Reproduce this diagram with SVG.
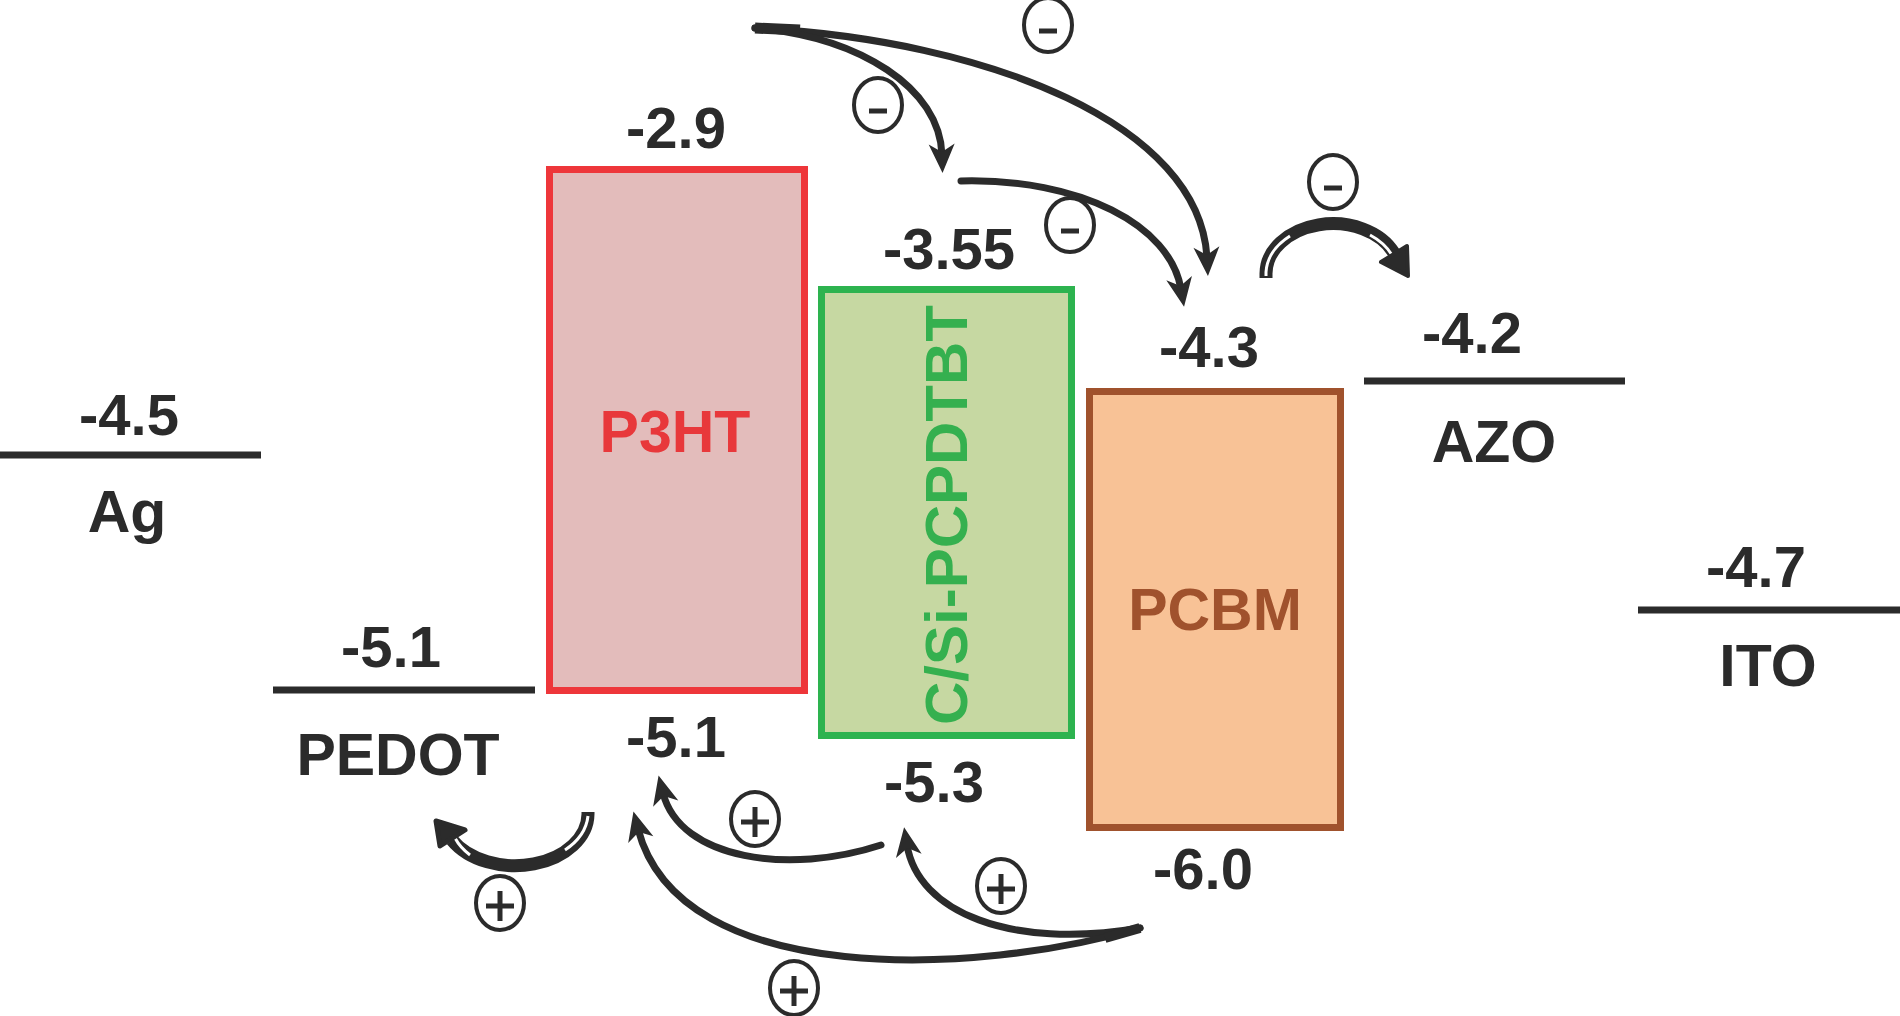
<svg xmlns="http://www.w3.org/2000/svg" width="1900" height="1016" viewBox="0 0 1900 1016">
<defs>
<style>
.t{font-family:"Liberation Sans",Arial,sans-serif;font-weight:bold;fill:#2b2b2b;text-anchor:middle}
.num{font-size:58px}
.lab{font-size:59px}
.lvl{stroke:#2b2b2b;stroke-width:7;fill:none}
.arr{stroke:#2b2b2b;stroke-width:7;fill:none;stroke-linecap:round;marker-end:url(#ah)}
.ring{fill:none;stroke:#2b2b2b;stroke-width:4}
.sgn{stroke:#2b2b2b;stroke-width:5;fill:none}
.hol{stroke:#2b2b2b;stroke-width:13;fill:none}
.holin{stroke:#ffffff;stroke-width:3;fill:none}
</style>
<marker id="ah" viewBox="-14 -14 34 28" markerUnits="userSpaceOnUse" markerWidth="34" markerHeight="28" refX="0" refY="0" orient="auto">
<path d="M18,0 L-11,-13 L-3,0 L-11,13 Z" fill="#2b2b2b"/>
</marker>
</defs>

<g id="ag">
<line class="lvl" x1="0" y1="455" x2="261" y2="455"/>
<text class="t num" x="129" y="435">-4.5</text>
<text class="t lab" x="127" y="532">Ag</text>
</g>

<g id="pedot">
<line class="lvl" x1="273" y1="690" x2="535" y2="690"/>
<text class="t num" x="391" y="667">-5.1</text>
<text class="t lab" x="398" y="775">PEDOT</text>
</g>

<g id="p3ht">
<rect x="549.5" y="169.5" width="255" height="521" fill="#E3BCBB" stroke="#EE363A" stroke-width="7"/>
<text class="t lab" x="675" y="452" style="fill:#E8383B">P3HT</text>
<text class="t num" x="676" y="148">-2.9</text>
<text class="t num" x="676" y="757">-5.1</text>
</g>

<g id="pcpdtbt">
<rect x="821.5" y="289.5" width="250" height="446" fill="#C6D8A2" stroke="#2DB34F" stroke-width="7"/>
<text class="t" transform="translate(946,515) rotate(-90)" x="0" y="21" style="font-size:60px;fill:#35B04F">C/Si-PCPDTBT</text>
<text class="t num" x="949" y="269">-3.55</text>
<text class="t num" x="934" y="802">-5.3</text>
</g>

<g id="pcbm">
<rect x="1089.5" y="391.5" width="251" height="436" fill="#F8C296" stroke="#A0522D" stroke-width="7"/>
<text class="t lab" x="1215" y="630" style="fill:#A0522D">PCBM</text>
<text class="t num" x="1209" y="367">-4.3</text>
<text class="t num" x="1203" y="889">-6.0</text>
</g>

<g id="azo">
<line class="lvl" x1="1364" y1="381" x2="1625" y2="381"/>
<text class="t num" x="1472" y="353">-4.2</text>
<text class="t lab" x="1494" y="462">AZO</text>
</g>

<g id="ito">
<line class="lvl" x1="1638" y1="610" x2="1900" y2="610"/>
<text class="t num" x="1756" y="587">-4.7</text>
<text class="t lab" x="1768" y="686">ITO</text>
</g>

<g id="connectors">
<path class="arr" d="M755,28 C990,40 1200,125 1207,258"/>
<path class="arr" d="M755,28 C860,37 940,88 942,155"/>
<path class="arr" d="M961,181 C1080,178 1170,225 1181,289"/>
<path class="arr" d="M881,845 C790,875 680,860 663,793"/>
<path class="arr" d="M1140,928 C1010,950 918,912 907,845"/>
<path class="arr" d="M1140,928 C980,975 680,990 638,829"/>
<path d="M755,28 L800,30" stroke="#2b2b2b" stroke-width="11" fill="none"/>
<path d="M1140,928 L1105,938" stroke="#2b2b2b" stroke-width="10" fill="none"/>

<path class="hol" d="M1266,278 L1266,274 A67,50 0 0 1 1394,253"/>
<path class="holin" d="M1266,276 L1266,272 A67,50 0 0 1 1290,236"/>
<path class="holin" d="M1370,235 A67,50 0 0 1 1392,255"/>
<polygon points="1408,276 1381,262 1407,246" fill="#2b2b2b" stroke="#2b2b2b" stroke-width="4" stroke-linejoin="round"/>

<path class="hol" d="M588,812 L588,814 A73,52 0 0 1 452,840"/>
<path class="holin" d="M588,816 A73,52 0 0 1 565,850"/>
<path class="holin" d="M470,855 A73,52 0 0 1 455,838"/>
<polygon points="436,821 440,846 465,830" fill="#2b2b2b" stroke="#2b2b2b" stroke-width="5" stroke-linejoin="round"/>

<g id="minus-signs">
<ellipse class="ring" cx="1048" cy="25" rx="24" ry="27"/><line class="sgn" x1="1039" y1="31" x2="1057" y2="31"/>
<ellipse class="ring" cx="878" cy="105" rx="24" ry="27"/><line class="sgn" x1="869" y1="111" x2="887" y2="111"/>
<ellipse class="ring" cx="1070" cy="225" rx="24" ry="27"/><line class="sgn" x1="1061" y1="231" x2="1079" y2="231"/>
<ellipse class="ring" cx="1333" cy="182" rx="24" ry="27"/><line class="sgn" x1="1324" y1="188" x2="1342" y2="188"/>
</g>
<g id="plus-signs">
<ellipse class="ring" cx="755" cy="819" rx="24" ry="27"/><path class="sgn" d="M741,822 H769 M755,807 V837"/>
<ellipse class="ring" cx="1001" cy="886" rx="24" ry="27"/><path class="sgn" d="M987,889 H1015 M1001,874 V904"/>
<ellipse class="ring" cx="500" cy="903" rx="24" ry="27"/><path class="sgn" d="M486,906 H514 M500,891 V921"/>
<ellipse class="ring" cx="794" cy="988" rx="24" ry="27"/><path class="sgn" d="M780,991 H808 M794,976 V1006"/>
</g>
</g>
</svg>
